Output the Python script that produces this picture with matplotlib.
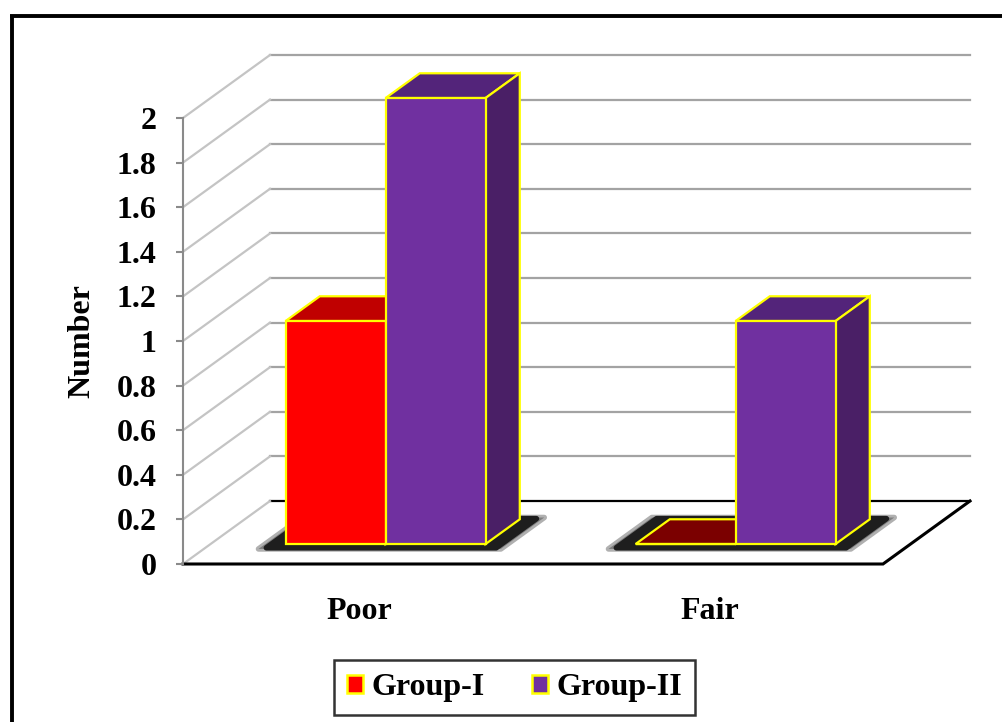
import matplotlib
matplotlib.use('Agg')
import matplotlib.pyplot as plt
from matplotlib.patches import Polygon, Patch
from matplotlib.lines import Line2D

# Chart data
categories = ['Poor', 'Fair']
series_names = ['Group-I', 'Group-II']
group1 = [1, 0]
group2 = [2, 1]
yticks = [0, 0.2, 0.4, 0.6, 0.8, 1, 1.2, 1.4, 1.6, 1.8, 2]
ytick_labels = ['0', '0.2', '0.4', '0.6', '0.8', '1', '1.2', '1.4', '1.6', '1.8', '2']

plt.rcParams['font.family'] = 'serif'
plt.rcParams['font.serif'] = ['Liberation Serif', 'DejaVu Serif']
plt.rcParams['font.weight'] = 'bold'

front_cols = ['#FF0000', '#7030A0']
top_cols = ['#C00000', '#53247A']
flat_cols = ['#7B0000', '#53247A']
side_cols = ['#8B0000', '#4A1F66']
edge = '#FFFF00'
fs = 23

# pixel geometry of the 3d box (front plane in data units)
px_cat, px_val = 350.0, 223.0
ox, oy = 183.0, 158.0
W, H = 1002.0, 722.0
depth = (87 / px_cat, 63 / px_val)   # full depth offset in data units
d0, d1 = 0.317, 0.71                  # bar depth range
ymax = 2

fig = plt.figure(figsize=(W / 100, H / 100), dpi=100)
ax = fig.add_axes([0, 0, 1, 1])
ax.set_xlim(-ox / px_cat, (W - ox) / px_cat)
ax.set_ylim(-oy / px_val, (H - oy) / px_val)


def P(x, v, d):
    return (x + d * depth[0], v + d * depth[1])


ncat = len(categories)

# floor
floor = Polygon([P(0, 0, 0), P(ncat, 0, 0), P(ncat, 0, 1), P(0, 0, 1)],
                closed=True, facecolor='white', edgecolor='none', zorder=1)
ax.add_patch(floor)
ax.plot(*zip(P(0, 0, 0), P(ncat, 0, 0), P(ncat, 0, 1)), color='black', lw=2.2, zorder=1.5,
        solid_joinstyle='miter')

# back wall gridlines and left wall diagonals
for v in yticks:
    col = 'black' if v == 0 else '#a3a3a3'
    ax.plot(*zip(P(0, v, 1), P(ncat, v, 1)), color=col, lw=1.6, zorder=1.2)
    ax.plot(*zip(P(0, v, 0), P(0, v, 1)), color='#c4c4c4', lw=1.6, zorder=1.2)

# y axis on the front plane
ax.spines['left'].set_position(('data', 0))
ax.spines['left'].set_bounds(0, ymax)
ax.spines['left'].set_color('#8a8a8a')
ax.spines['left'].set_linewidth(1.5)
ax.spines['left'].set_zorder(1.6)
for s in ['right', 'top', 'bottom']:
    ax.spines[s].set_visible(False)
ax.set_xticks([])
ax.set_yticks(yticks)
ax.set_yticklabels(ytick_labels)
ax.tick_params(axis='y', length=5, width=1.5, color='#8a8a8a', pad=14, labelsize=fs)
ax.set_facecolor('none')

w = 1 / 3.5
for i in range(ncat):
    c = i + 0.5
    vals = [group1[i], group2[i]]
    gx0, gx1 = c - w, c + w
    # shadow under the group
    for grow, alpha in [(0.018, 0.35), (0.0, 1.0)]:
        sh = Polygon([P(gx0 - 0.04 - grow, 0, d0 - 0.06 - grow), P(gx1 + 0.045 + grow, 0, d0 - 0.06 - grow),
                      P(gx1 + 0.045 + grow, 0, d1 + 0.01 + grow), P(gx0 - 0.04 - grow, 0, d1 + 0.01 + grow)],
                     closed=True, facecolor='#1e1e1e', edgecolor='#1e1e1e', lw=4, alpha=alpha,
                     joinstyle='round', zorder=2)
        ax.add_patch(sh)
    for j, v in enumerate(vals):
        x0 = c - w + j * w
        x1 = x0 + w
        z = 3 + j
        top_col = top_cols[j] if v > 0 else flat_cols[j]
        top = Polygon([P(x0, v, d0), P(x1, v, d0), P(x1, v, d1), P(x0, v, d1)], closed=True,
                      facecolor=top_col, edgecolor=edge, lw=1.6, zorder=z)
        side = Polygon([P(x1, 0, d0), P(x1, 0, d1), P(x1, v, d1), P(x1, v, d0)], closed=True,
                       facecolor=side_cols[j], edgecolor=edge, lw=1.6, zorder=z)
        front = Polygon([P(x0, 0, d0), P(x1, 0, d0), P(x1, v, d0), P(x0, v, d0)], closed=True,
                        facecolor=front_cols[j], edgecolor=edge, lw=1.6, zorder=z)
        ax.add_patch(top)
        ax.add_patch(side)
        ax.add_patch(front)
    ax.text(c + 0.005, -0.215, categories[i], ha='center', va='center', fontsize=fs, fontweight='bold')

ax.text(-0.29, 1.0, 'Number', rotation=90, ha='center', va='center', fontsize=fs, fontweight='bold')

handles = [Patch(facecolor=front_cols[k], edgecolor=edge, lw=1.8, label=series_names[k]) for k in range(2)]
leg = fig.legend(handles=handles, loc='center', bbox_to_anchor=(514.5 / W, 1 - 687.5 / H), ncol=2,
                 fontsize=fs, frameon=True, fancybox=False, handlelength=0.5, handleheight=0.5,
                 handletextpad=0.25, columnspacing=1.5, borderpad=0.3, borderaxespad=0)
leg.get_frame().set_edgecolor('black')
leg.get_frame().set_linewidth(1.8)
# extra horizontal padding inside the legend box
leg._legend_box.pad = 0.3 * fs * 100 / 72

# outer frame (only top and left visible in the crop)
fig.add_artist(Line2D([10 / W, 1], [1 - 16 / H, 1 - 16 / H], color='black', lw=2.8,
                      transform=fig.transFigure, solid_capstyle='butt'))
fig.add_artist(Line2D([12 / W, 12 / W], [0, 1 - 15 / H], color='black', lw=2.8,
                      transform=fig.transFigure, solid_capstyle='butt'))

fig.savefig('out.png', dpi=100)
